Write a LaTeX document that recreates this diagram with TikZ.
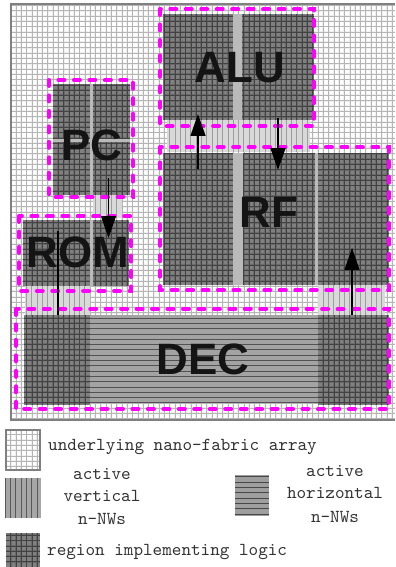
\documentclass[tikz,border=0pt]{standalone}
\usepackage{xcolor}
\usepackage{fontspec}
\setmainfont{Liberation Sans}
\usetikzlibrary{arrows.meta}
\definecolor{dashpink}{RGB}{255,0,255}
\begin{document}
\begin{tikzpicture}[x=0.02cm,y=-0.02cm,
	fabrichalo/.style={draw=gray!12,line width=1.1pt,step=0.106cm},
	fabricwire/.style={draw=gray!58,line width=0.25pt,step=0.106cm},
	logicfill/.style={fill=black!50},
	logichalo/.style={draw=black!58,line width=1.1pt,step=0.106cm},
	logicwire/.style={draw=black!74,line width=0.3pt,step=0.106cm},
	stripfill/.style={fill=black!27},
	vertfill/.style={fill=black!15},
	vertwire/.style={draw=black!38,line width=0.4pt,xstep=0.106cm,ystep=100cm},
	horifill/.style={fill=black!36},
	horiwire/.style={draw=black!68,line width=0.35pt,xstep=100cm,ystep=0.106cm},
	blockline/.style={draw=dashpink,line width=2.3pt,line cap=round,dash pattern=on 3.4pt off 5.4pt},
	blocklabel/.style={font=\bfseries\fontsize{25}{30}\selectfont,text=black!92},
	legendtext/.style={font=\ttfamily\fontsize{10.4}{12}\selectfont,text=black!80},
	flow/.style={draw=black,line width=0.8pt,-{Triangle[length=12.5pt,width=8.5pt]}}]
	\useasboundingbox (0,0) rectangle (395,567);
	\fill[white] (0,0) rectangle (395,567);

	% Underlying array
	\draw[fabrichalo] (12,5) grid (395,420);
	\draw[fabricwire] (12,5) grid (395,420);
	\draw[gray,line width=0.6pt] (395,4) -- (11,4) -- (11,420) -- (395,420);

	% Active vertical n-NWs
	\foreach \xa/\ya/\xb/\yb in {167/120/310/152, 93/195/122/218, 25/286/90/315, 318/285/385/315} {
		\fill[vertfill] (\xa,\ya) rectangle (\xb,\yb);
		\begin{scope}
			\clip (\xa,\ya) rectangle (\xb,\yb);
			\draw[vertwire] (\xa,\ya) grid (\xb,\yb);
		\end{scope}
	}

	% Strips between the logic regions
	\foreach \xa/\ya/\xb/\yb in {164/14/314/120, 53/84/130/195, 23/220/129/286, 164/153/389/285} {
		\fill[stripfill] (\xa,\ya) rectangle (\xb,\yb);
	}

	% Active horizontal n-NWs
	\fill[horifill] (90,315) rectangle (318,403);
	\begin{scope}
		\clip (90,315) rectangle (318,403);
		\draw[horiwire] (90,315) grid (318,403);
	\end{scope}

	% Regions implementing logic
	\foreach \xa/\ya/\xb/\yb in {164/14/233/120, 242/14/314/120,
			53/84/90/138, 93/84/130/138, 53/142/90/195, 93/142/130/195,
			23/220/90/286, 93/220/129/286,
			164/153/233/285, 243/153/315/285, 318/153/389/285,
			24/315/90/405, 318/315/389/405} {
		\fill[logicfill] (\xa,\ya) rectangle (\xb,\yb);
		\draw[logichalo] (\xa,\ya) grid (\xb,\yb);
		\draw[logicwire] (\xa,\ya) grid (\xb,\yb);
	}

	% Block outlines
	\draw[blockline] (160,9) rectangle (314,126);
	\draw[blockline] (49,80) rectangle (133,197);
	\draw[blockline] (19,216) rectangle (131,291);
	\draw[blockline] (160,147) rectangle (389,290);
	\draw[blockline] (16,309) rectangle (389,409);

	% Block names
	\node[blocklabel] (alu) at (240,68) {ALU};
	\node[blocklabel] (pc) at (92,145) {PC};
	\node[blocklabel] (rom) at (78,252) {ROM};
	\node[blocklabel] (rf) at (269,212) {RF};
	\node[blocklabel] (dec) at (203,359) {DEC};

	% Arrow ends
	\coordinate (alufoot) at (198,169);
	\coordinate (alutip) at (198,114);
	\coordinate (rffoot) at (278,118);
	\coordinate (rftip) at (278,170);
	\coordinate (pcfoot) at (108.5,178);
	\coordinate (pctip) at (108.5,238);
	\coordinate (romtop) at (58,231);
	\coordinate (rombase) at (58,315);
	\coordinate (decfoot) at (352,315);
	\coordinate (dectip) at (352,248);

	% Arrows
	\draw[flow] (alufoot) -- (alutip);
	\draw[flow] (rffoot) -- (rftip);
	\draw[flow] (pcfoot) -- (pctip);
	\draw[black,line width=0.8pt] (romtop) -- (rombase);
	\draw[flow] (decfoot) -- (dectip);

	% Legend
	\draw[fabrichalo] (6,430) grid (40,470);
	\draw[fabricwire] (6,430) grid (40,470);
	\draw[gray,line width=0.6pt] (6,430) rectangle (40,470);
	\node[legendtext,anchor=west] (fabrictext) at (42,447) {underlying nano-fabric array};

	\fill[black!35] (5,478) rectangle (41,518);
	\begin{scope}
		\clip (5,478) rectangle (41,518);
		\draw[black!65,line width=0.5pt,xstep=0.106cm,ystep=100cm] (5,478) grid (41,518);
	\end{scope}
	\node[legendtext] (vertone) at (102,474) {active};
	\node[legendtext] (verttwo) at (102,496) {vertical};
	\node[legendtext] (vertthree) at (102,519) {n-NWs};

	\fill[black!38] (235,475) rectangle (269,516);
	\begin{scope}
		\clip (235,475) rectangle (269,516);
		\draw[black!72,line width=0.5pt,xstep=100cm,ystep=0.106cm] (235,475) grid (269,516);
	\end{scope}
	\node[legendtext] (horione) at (335,471) {active};
	\node[legendtext] (horitwo) at (335,493) {horizontal};
	\node[legendtext] (horithree) at (335,517) {n-NWs};

	\fill[logicfill] (6,533) rectangle (40,567);
	\draw[logichalo] (6,533) grid (40,567);
	\draw[logicwire] (6,533) grid (40,567);
	\node[legendtext,anchor=west] (logictext) at (41,552) {region implementing logic};
\end{tikzpicture}
\end{document}
